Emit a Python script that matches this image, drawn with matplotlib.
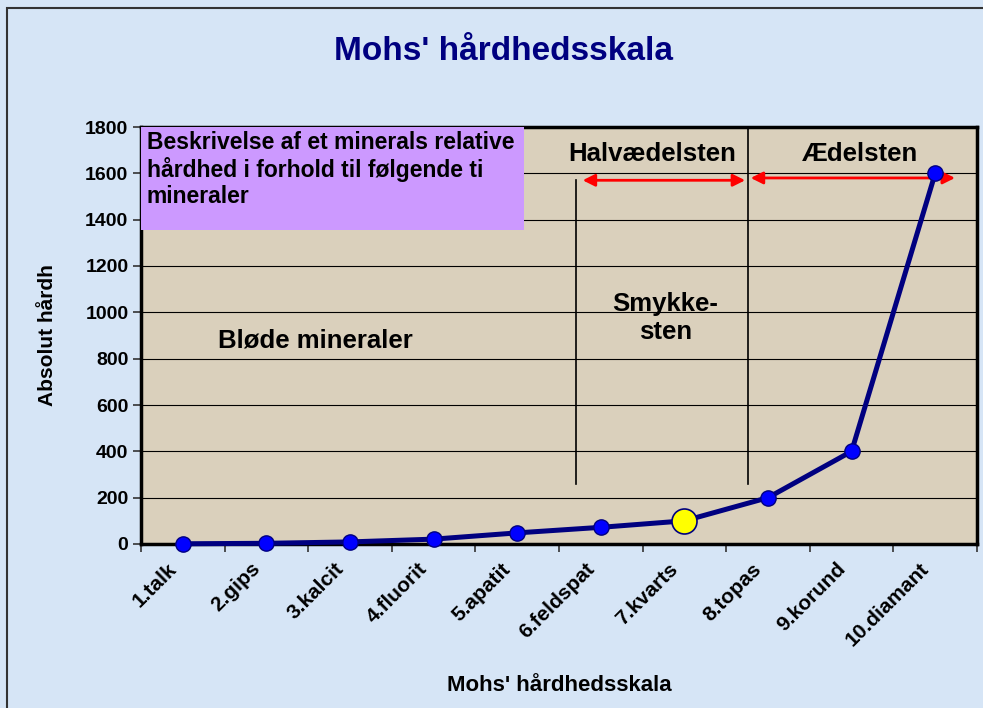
import matplotlib
matplotlib.use("Agg")
import matplotlib.pyplot as plt
import matplotlib.transforms as mtransforms
from matplotlib.patches import Rectangle

plt.rcParams['font.family'] = ['Liberation Sans', 'DejaVu Sans']
plt.rcParams['font.weight'] = 'bold'

categories = ["1.talk", "2.gips", "3.kalcit", "4.fluorit", "5.apatit",
              "6.feldspat", "7.kvarts", "8.topas", "9.korund", "10.diamant"]
hardness = [1, 3, 9, 21, 48, 72, 100, 200, 400, 1600]
highlight = "7.kvarts"
yticks = [0, 200, 400, 600, 800, 1000, 1200, 1400, 1600, 1800]

fig = plt.figure(figsize=(9.83, 7.08), dpi=100)
fig.patch.set_facecolor('#D6E5F6')
# figure border
fig.patches.append(Rectangle((7/983, -0.01), 1.0, 1 - 8/708 + 0.01, transform=fig.transFigure,
                             fill=False, edgecolor='#333333', lw=1.5))

ax = fig.add_axes([141/983, 1 - 544/708, (977-141)/983, (544-127)/708])
ax.set_facecolor('#DAD0BC')

x = list(range(len(categories)))
ax.plot(x, hardness, color='#000080', lw=3.6, marker='o', markersize=11,
        markerfacecolor='#0000FF', markeredgecolor='#000080', zorder=5, clip_on=False)
hi = categories.index(highlight)
ax.plot([hi], [hardness[hi]], marker='o', markersize=18, markerfacecolor='#FFFF00',
        markeredgecolor='#000080', markeredgewidth=1.2, zorder=6, linestyle='none')

ax.set_xlim(-0.5, len(categories) - 0.5)
ax.set_ylim(0, 1800)
ax.set_yticks(yticks)
ax.set_yticklabels([str(v) for v in yticks], fontsize=14, fontweight='bold')
ax.set_xticks(x)
ax.set_xticklabels(categories, rotation=45, ha='right', rotation_mode='anchor',
                   fontsize=15, fontweight='bold')
ax.tick_params(axis='x', length=0, pad=11)
offset = mtransforms.ScaledTranslation(-16/100, 0, fig.dpi_scale_trans)
for lbl in ax.get_xticklabels():
    lbl.set_transform(lbl.get_transform() + offset)
ax.set_xticks([i - 0.5 for i in range(len(categories) + 1)], minor=True)
ax.tick_params(axis='x', which='minor', length=6, width=1.2, direction='out', color='#333333')
ax.tick_params(axis='y', length=6, width=1.2, direction='out', color='#333333', pad=3)
ax.grid(axis='y', color='black', lw=0.8)
ax.set_axisbelow(True)
for s in ax.spines.values():
    s.set_linewidth(2.5)
    s.set_color('black')

ax.set_ylabel("Absolut hårdh", fontsize=15, fontweight='bold')
ax.yaxis.set_label_coords(-0.101, 0.5)
ax.set_xlabel("Mohs' hårdhedsskala", fontsize=16, fontweight='bold')
ax.xaxis.set_label_coords(0.5, -0.315)
fig.text(503/983, 1 - 51/708, "Mohs' hårdhedsskala", ha='center', va='center',
         fontsize=24, fontweight='bold', color='#000080')

# purple description box
ax.add_patch(Rectangle((-0.5, 1355), 4.58, 445, facecolor='#CC99FF', edgecolor='none', zorder=3))
ax.text(-0.43, 1782, "Beskrivelse af et minerals relative\nhårdhed i forhold til følgende ti\nmineraler",
        ha='left', va='top', fontsize=16.5, fontweight='bold', linespacing=1.16, zorder=4)

# region separators
ax.plot([4.70, 4.70], [260, 1570], color='black', lw=1.2, zorder=4)
ax.plot([6.76, 6.76], [260, 1800], color='black', lw=1.2, zorder=4)
ax.annotate('', xy=(4.75, 1570), xytext=(6.76, 1570),
            arrowprops=dict(arrowstyle='<|-|>', color='red', lw=2, mutation_scale=18), zorder=4)
ax.annotate('', xy=(6.76, 1580), xytext=(9.27, 1580),
            arrowprops=dict(arrowstyle='<|-|>', color='red', lw=2, mutation_scale=18), zorder=4,
            annotation_clip=False)

ax.text(5.62, 1685, "Halvædelsten", ha='center', va='center', fontsize=18.5, fontweight='bold')
ax.text(8.1, 1685, "Ædelsten", ha='center', va='center', fontsize=18.5, fontweight='bold')
ax.text(5.77, 975, "Smykke-\nsten", ha='center', va='center', fontsize=18.5, fontweight='bold',
        linespacing=1.2)
ax.text(1.59, 880, "Bløde mineraler", ha='center', va='center', fontsize=18.5, fontweight='bold')

fig.savefig("out.png", dpi=100, facecolor=fig.get_facecolor())
